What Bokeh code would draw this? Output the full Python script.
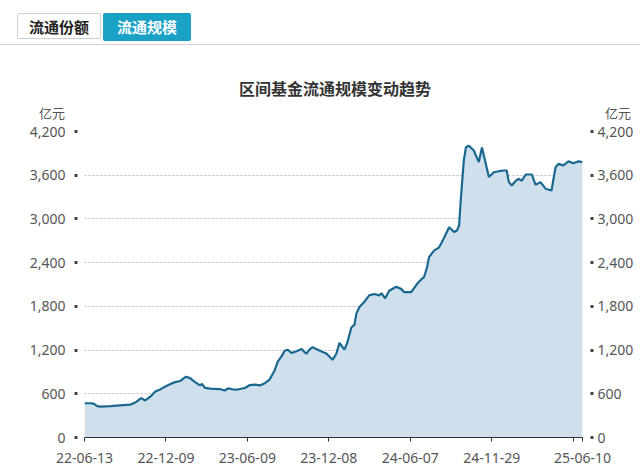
from bokeh.plotting import figure
from bokeh.models import (Range1d, FixedTicker, NumeralTickFormatter, LinearAxis,
                          Div, ColumnDataSource)
from bokeh.layouts import column
from bokeh.embed import file_html
from bokeh.resources import INLINE

# ---- data (position index of each weekly observation, scale in 亿元) ----
period = [0, 1.9, 2.9, 4.1, 5.1, 8.3, 11.4, 14.6, 16.2, 18.1, 19.4, 21.0, 22.6, 24.2,
          25.8, 27.3, 28.9, 30.5, 32.4, 33.7, 35.3, 36.9, 37.5, 38.5, 40.1, 43.2,
          44.8, 45.8, 48.0, 49.6, 51.2, 52.8, 54.4, 56.0, 57.6, 59.1, 60.7, 61.7,
          63.0, 63.9, 64.9, 66.1, 67.7, 69.3, 70.3, 70.9, 71.9, 72.8, 75.0, 77.3,
          79.2, 80.4, 81.4, 83.0, 83.9, 85.2, 86.2, 86.8, 87.8, 89.3, 90.9, 92.5,
          94.1, 94.8, 96.0, 97.3, 99.5, 101.1, 102.1, 104.3, 106.2, 107.5, 108.4,
          109.4, 110.0, 111.6, 113.2, 114.1, 115.7, 116.4, 118.0, 118.9, 119.6,
          120.2, 121.1, 121.8, 122.7, 124.3, 125.9, 126.9, 128.1, 129.1, 130.7,
          132.3, 133.9, 134.8, 135.5, 136.4, 137.7, 138.6, 139.6, 140.9, 142.8,
          144.0, 145.6, 147.2, 149.1, 150.4, 151.3, 152.9, 154.5, 156.1, 157.7, 159.0]
scale = [470, 470, 465, 430, 425, 430, 440, 450, 480, 540, 508, 560, 630, 660,
         700, 730, 760, 775, 835, 815, 760, 715, 735, 680, 670, 665,
         645, 675, 655, 665, 680, 720, 725, 715, 745, 795, 920, 1040,
         1120, 1190, 1205, 1160, 1185, 1215, 1170, 1150, 1210, 1240, 1195, 1150,
         1066, 1150, 1300, 1205, 1300, 1510, 1550, 1700, 1790, 1860, 1950, 1970,
         1950, 1980, 1910, 2015, 2070, 2040, 1995, 1995, 2110, 2170, 2200,
         2340, 2475, 2565, 2610, 2680, 2820, 2885, 2820, 2840, 2910,
         3300, 3800, 3985, 4005, 3940, 3780, 3980, 3760, 3575, 3640,
         3655, 3665, 3665, 3505, 3460, 3525, 3550, 3525, 3610, 3610,
         3470, 3505, 3415, 3390, 3710, 3755, 3735, 3790, 3765, 3790, 3780]

x_tick_pos = [0, 26, 52, 78, 104, 130, 156, 159]
x_tick_labels = ["22-06-13", "22-12-09", "23-06-09", "23-12-08", "24-06-07", "24-11-29", "", "25-06-10"]
y_ticks = [0, 600, 1200, 1800, 2400, 3000, 3600, 4200]

title_text = "区间基金流通规模变动趋势"
unit_text = "亿元"
tabs = ["流通份额", "流通规模"]

FONT = "Noto Sans"
CJK = "Noto Sans CJK SC"

# ---- header: tabs, divider, chart title, unit names ----
header_html = f"""
<div style="position:relative;width:640px;height:114px;font-family:'{CJK}';">
  <div style="position:absolute;left:17px;top:5px;width:84px;height:26px;border:1px solid #cfcfcf;
       border-radius:2px;background:#fff;color:#222;font-size:15px;font-weight:bold;
       line-height:26px;text-align:center;">{tabs[0]}</div>
  <div style="position:absolute;left:103px;top:5px;width:88px;height:28px;background:#1aa1c6;
       border-radius:2px;color:#fff;font-size:15px;font-weight:bold;line-height:28px;text-align:center;">{tabs[1]}</div>
  <div style="position:absolute;left:0px;top:36px;width:640px;height:1px;background:#d6d6d6;"></div>
  <div style="position:absolute;left:135px;top:70px;width:400px;height:20px;line-height:20px;
       text-align:center;font-size:16px;font-weight:bold;color:#333;">{title_text}</div>
  <div style="position:absolute;left:15px;top:97px;width:50px;height:16px;line-height:16px;
       text-align:right;font-size:13px;color:#555;">{unit_text}</div>
  <div style="position:absolute;left:597px;top:97px;width:42px;height:16px;line-height:16px;
       text-align:center;font-size:13px;color:#555;">{unit_text}</div>
</div>
"""
div = Div(text=header_html, width=640, height=114, margin=(0, 0, 0, 0))

# ---- figure ----
p = figure(width=628, height=348, output_backend="svg", toolbar_location=None,
           x_range=Range1d(0, 159), y_range=Range1d(0, 4200),
           min_border_left=76, min_border_right=52, min_border_top=9, min_border_bottom=33,
           y_axis_location=None, x_axis_location=None, margin=(0, 0, 0, 8))
p.outline_line_color = None
p.background_fill_color = "white"

src = ColumnDataSource(dict(x=period, y=scale))
p.varea(x="x", y1=0, y2="y", source=src, fill_color="#cfe0ec", fill_alpha=1.0)
p.line(x="x", y="y", source=src, line_color="#1a6890", line_width=2.2)

# x axis
xa = LinearAxis(ticker=FixedTicker(ticks=x_tick_pos),
                major_label_overrides={t: l for t, l in zip(x_tick_pos, x_tick_labels)})
xa.axis_line_color = "#333333"
xa.axis_line_width = 1
xa.major_tick_line_color = "#333333"
xa.major_tick_in = 0
xa.major_tick_out = 4
xa.minor_tick_line_color = None
xa.major_label_standoff = 11
xa.major_label_text_font = FONT
xa.major_label_text_font_size = "14px"
xa.major_label_text_color = "#555555"
p.add_layout(xa, "below")

def yaxis(tin, tout, standoff):
    a = LinearAxis(ticker=FixedTicker(ticks=y_ticks), formatter=NumeralTickFormatter(format="0,0"))
    a.axis_line_color = None
    a.major_tick_line_color = "#444444"
    a.major_tick_line_width = 3
    a.major_tick_in = tin
    a.major_tick_out = tout
    a.minor_tick_line_color = None
    a.major_label_standoff = standoff
    a.major_label_text_font = FONT
    a.major_label_text_font_size = "14px"
    a.major_label_text_color = "#555555"
    return a

p.add_layout(yaxis(-7, 10, 9), "left")
p.add_layout(yaxis(-8, 11, 4), "right")

p.xgrid.grid_line_color = None
p.ygrid.ticker = FixedTicker(ticks=y_ticks)
p.ygrid.grid_line_color = "#bdbdbd"
p.ygrid.grid_line_dash = "2 2"
p.ygrid.grid_line_width = 1

layout = column(div, p, spacing=0, margin=(8, 0, 0, 0))
open("out.html", "w").write(file_html(layout, INLINE))
